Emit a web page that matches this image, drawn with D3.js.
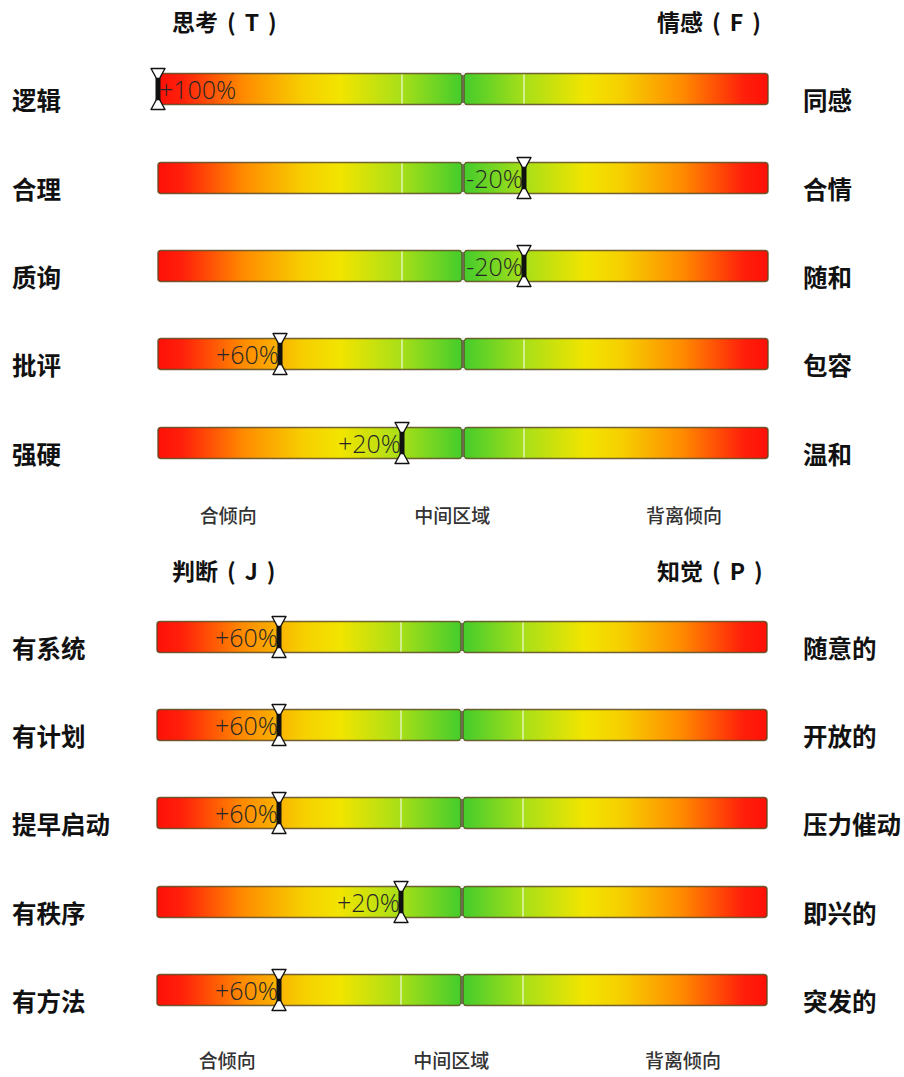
<!DOCTYPE html>
<html><head><meta charset="utf-8">
<script src="https://cdn.jsdelivr.net/npm/d3@7"></script>
<style>body{margin:0;background:#fff}svg{display:block}</style>
</head><body>
<script>
// ---- data ----
const sectionHeadersLeft = [["思考","T"],["判断","J"]];
const sectionHeadersRight = [["情感","F"],["知觉","P"]];
const leftLabelsTF = ["逻辑","合理","质询","批评","强硬"];
const rightLabelsTF = ["同感","合情","随和","包容","温和"];
const valuesTF = [100,-20,-20,60,20];
const leftLabelsJP = ["有系统","有计划","提早启动","有秩序","有方法"];
const rightLabelsJP = ["随意的","开放的","压力催动","即兴的","突发的"];
const valuesJP = [60,60,60,20,60];
const footerLabels = ["合倾向","中间区域","背离倾向"];
const footerPositions = [77,3.5,-72.5];
const gridTicks = [20,-20];

const W=904,H=1077;
const svg=d3.select("body").append("svg").attr("width",W).attr("height",H);
const defs=svg.append("defs");
function grad(id,rev){
  const g=defs.append("linearGradient").attr("id",id).attr("x1",rev?"100%":"0%").attr("x2",rev?"0%":"100%").attr("y1","0%").attr("y2","0%");
  [[0,"#ff1008"],[0.08,"#ff200a"],[0.28,"#ff8a00"],[0.48,"#f6cf00"],[0.6,"#f2e400"],[0.8,"#a8df18"],[1,"#44cc2c"]]
   .forEach(([o,c])=>g.append("stop").attr("offset",o).attr("stop-color",c));
}
grad("gL",false);grad("gR",true);

const sections=[
 {hl:sectionHeadersLeft[0],hr:sectionHeadersRight[0],left:leftLabelsTF,right:rightLabelsTF,vals:valuesTF,x0:158,x1:768,rows:[89,178,266,354,443],headerY:31,footerY:523},
 {hl:sectionHeadersLeft[1],hr:sectionHeadersRight[1],left:leftLabelsJP,right:rightLabelsJP,vals:valuesJP,x0:157,x1:767,rows:[637,725,813,902,990],headerY:580,footerY:1068}
];
const barH=31;
function header(g,x,y,parts){
  const t=g.append("text").attr("x",x).attr("y",y)
   .attr("font-family","Noto Sans CJK SC").attr("font-weight",700).attr("font-size",23).attr("fill","#111");
  t.append("tspan").text(parts[0]);
  t.append("tspan").attr("dx",9).text("(");
  t.append("tspan").attr("dx",9).text(parts[1]);
  t.append("tspan").attr("dx",9).text(")");
}
sections.forEach(s=>{
  const x=d3.scaleLinear().domain([100,-100]).range([s.x0,s.x1]);
  const g=svg.append("g");
  header(g,172,s.headerY,s.hl);
  header(g,657,s.headerY,s.hr);
  s.vals.forEach((v,i)=>{
    const cy=s.rows[i], top=cy-barH/2;
    const row=g.append("g");
    row.append("text").attr("x",12).attr("y",cy+21).text(s.left[i])
      .attr("font-family","Noto Sans CJK SC").attr("font-weight",700).attr("font-size",24.5).attr("fill","#111");
    row.append("text").attr("x",803).attr("y",cy+21).text(s.right[i])
      .attr("font-family","Noto Sans CJK SC").attr("font-weight",700).attr("font-size",24.5).attr("fill","#111");
    const cx=x(0);
    row.append("rect").attr("x",x(100)).attr("y",top).attr("width",cx-1-x(100)).attr("height",barH)
      .attr("rx",3).attr("fill","url(#gL)").attr("stroke","#5a4a1e").attr("stroke-opacity",0.85).attr("stroke-width",1.5);
    row.append("rect").attr("x",cx+1).attr("y",top).attr("width",x(-100)-cx-1).attr("height",barH)
      .attr("rx",3).attr("fill","url(#gR)").attr("stroke","#5a4a1e").attr("stroke-opacity",0.85).attr("stroke-width",1.5);
    row.append("line").attr("x1",cx).attr("x2",cx).attr("y1",top).attr("y2",top+barH).attr("stroke","#6b6b50").attr("stroke-width",2);
    [top,top+barH].forEach(yy=>row.append("circle").attr("cx",cx).attr("cy",yy).attr("r",1.8).attr("fill","#f0f0f0"));
    gridTicks.forEach(t=>row.append("line").attr("x1",x(t)).attr("x2",x(t)).attr("y1",top+1).attr("y2",top+barH-1)
      .attr("stroke","#ffffff").attr("stroke-opacity",0.85).attr("stroke-width",1.2));
    // label
    const mx=x(v);
    const lab=row.append("text").attr("y",cy+10).text((v>0?"+":"")+v+"%")
      .attr("font-family","Open Sans").attr("font-weight",300).attr("font-size",25).attr("fill","#262626");
    const tw=lab.node().getComputedTextLength();
    let lx=mx-1-tw; if(lx<s.x0+2) lx=mx+1;
    lab.attr("x",lx);
    // marker
    const m=row.append("g").attr("transform",`translate(${mx},0)`);
    m.append("rect").attr("x",-2.5).attr("y",top-2).attr("width",5).attr("height",barH+4).attr("fill","#111");
    m.append("path").attr("d",`M-7,${top-5}L7,${top-5}L1.5,${top+5}L-1.5,${top+5}Z`).attr("fill","#fff").attr("stroke","#111").attr("stroke-width",1.4).attr("stroke-linejoin","round");
    m.append("path").attr("d",`M-7,${top+barH+5}L7,${top+barH+5}L1.5,${top+barH-5}L-1.5,${top+barH-5}Z`).attr("fill","#fff").attr("stroke","#111").attr("stroke-width",1.4).attr("stroke-linejoin","round");
  });
  footerLabels.forEach((f,i)=>{
    g.append("text").attr("x",x(footerPositions[i])).attr("y",s.footerY).attr("text-anchor","middle").text(f)
     .attr("font-family","Noto Sans CJK SC").attr("font-weight",500).attr("font-size",19).attr("fill","#333");
  });
});
</script>
</body></html>
